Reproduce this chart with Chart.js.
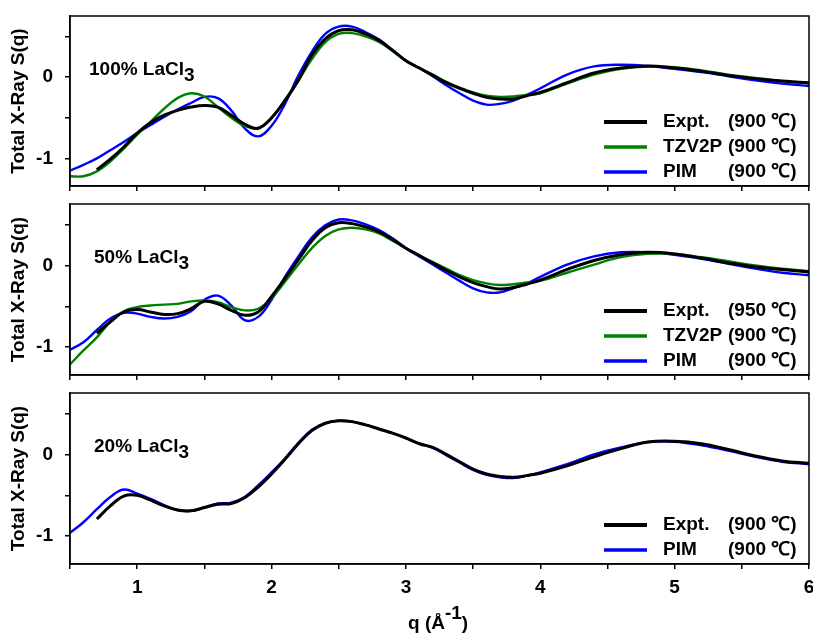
<!DOCTYPE html>
<html>
<head>
<meta charset="utf-8">
<script src="https://cdn.jsdelivr.net/npm/chart.js@4.4.1/dist/chart.umd.min.js"></script>
<style>
  body { margin: 0; background: #fff; }
  #wrap { position: relative; width: 813px; height: 633px; }
  #wrap canvas { position: absolute; left: 0; top: 0; }
</style>
</head>
<body>
<div id="wrap">
  <canvas id="c100" width="813" height="633"></canvas>
  <canvas id="c50" width="813" height="633"></canvas>
  <canvas id="c20" width="813" height="633"></canvas>
</div>
<script>
// q grid (1/Å) shared by every curve
const qGrid = [0.5, 0.6, 0.7, 0.8, 0.9, 1.0, 1.1, 1.2, 1.3, 1.4, 1.5, 1.6, 1.7, 1.8, 1.9,
  2.0, 2.1, 2.2, 2.3, 2.4, 2.5, 2.6, 2.7, 2.8, 2.9, 3.0,
  3.1, 3.2, 3.3, 3.4, 3.5, 3.6, 3.7, 3.8, 3.9, 4.0,
  4.2, 4.4, 4.6, 4.8, 5.0, 5.2, 5.4, 5.6, 5.8, 6.0];

// 100% LaCl3
const expt100 = [null, null, -1.14, -1.01, -0.86, -0.69, -0.56, -0.47, -0.41, -0.37, -0.35, -0.37, -0.47, -0.58, -0.63,
  -0.5, -0.29, -0.04, 0.27, 0.47, 0.57, 0.58, 0.53, 0.45, 0.33, 0.2,
  0.11, 0.02, -0.07, -0.14, -0.2, -0.25, -0.27, -0.27, -0.23, -0.19,
  -0.07, 0.05, 0.11, 0.135, 0.11, 0.07, 0.02, -0.02, -0.05, -0.07];
const tzv100 = [-1.22, -1.22, -1.16, -1.04, -0.88, -0.71, -0.55, -0.39, -0.26, -0.2, -0.24, -0.37, -0.5, -0.6, -0.63,
  -0.51, -0.28, -0.04, 0.22, 0.43, 0.53, 0.54, 0.5, 0.43, 0.32, 0.2,
  0.11, 0.03, -0.06, -0.13, -0.19, -0.23, -0.245, -0.24, -0.22, -0.2,
  -0.08, 0.03, 0.1, 0.13, 0.12, 0.08, 0.03, -0.01, -0.05, -0.08];
const pim100 = [-1.15, -1.08, -1.0, -0.9, -0.8, -0.69, -0.59, -0.49, -0.4, -0.32, -0.245, -0.26, -0.41, -0.63, -0.73,
  -0.6, -0.33, 0.02, 0.31, 0.53, 0.62, 0.62, 0.55, 0.46, 0.33, 0.2,
  0.11, 0.01, -0.1, -0.2, -0.29, -0.34, -0.33, -0.29, -0.22, -0.14,
  0.03, 0.13, 0.15, 0.135, 0.1, 0.06, 0.01, -0.04, -0.08, -0.11];

// 50% LaCl3
const expt50 = [null, null, -0.83, -0.69, -0.57, -0.54, -0.57, -0.6, -0.59, -0.53, -0.44, -0.47, -0.55, -0.61, -0.57,
  -0.38, -0.16, 0.07, 0.3, 0.46, 0.52, 0.51, 0.47, 0.41, 0.32, 0.21,
  0.12, 0.03, -0.06, -0.14, -0.21, -0.26, -0.29, -0.27, -0.23, -0.18,
  -0.05, 0.06, 0.13, 0.16, 0.14, 0.09, 0.03, -0.02, -0.05, -0.08];
const tzv50 = [-1.21, -1.04, -0.88, -0.69, -0.56, -0.51, -0.49, -0.48, -0.47, -0.44, -0.43, -0.45, -0.51, -0.55, -0.53,
  -0.4, -0.2, 0.01, 0.21, 0.36, 0.44, 0.46, 0.44, 0.39, 0.3, 0.21,
  0.12, 0.04, -0.04, -0.12, -0.18, -0.22, -0.24, -0.23, -0.21, -0.19,
  -0.09, 0.01, 0.1, 0.14, 0.14, 0.1, 0.05, 0.0, -0.04, -0.07];
const pim50 = [-1.03, -0.94, -0.79, -0.65, -0.58, -0.59, -0.63, -0.65, -0.63, -0.56, -0.42, -0.37, -0.49, -0.67, -0.63,
  -0.42, -0.14, 0.11, 0.34, 0.49, 0.56, 0.55, 0.5, 0.43, 0.33, 0.21,
  0.11, 0.01, -0.09, -0.19, -0.28, -0.33, -0.33, -0.28, -0.22, -0.14,
  0.01, 0.11, 0.16, 0.16, 0.13, 0.08, 0.02, -0.04, -0.09, -0.12];

// 20% LaCl3
const expt20 = [null, null, -0.79, -0.63, -0.51, -0.5, -0.56, -0.63, -0.68, -0.69, -0.65, -0.61, -0.6, -0.53, -0.4,
  -0.24, -0.06, 0.13, 0.29, 0.38, 0.41, 0.4, 0.36, 0.31, 0.26, 0.2,
  0.13, 0.085, 0.0, -0.09, -0.18, -0.24, -0.27, -0.28, -0.26, -0.23,
  -0.14, -0.03, 0.07, 0.15, 0.16, 0.13, 0.06, -0.02, -0.08, -0.11];
const pim20 = [-0.96, -0.83, -0.67, -0.52, -0.43, -0.48, -0.545, -0.62, -0.68, -0.69, -0.65, -0.6, -0.59, -0.52, -0.38,
  -0.22, -0.05, 0.14, 0.3, 0.38, 0.41, 0.4, 0.36, 0.31, 0.26, 0.2,
  0.13, 0.08, -0.01, -0.1, -0.19, -0.25, -0.28, -0.29, -0.26, -0.22,
  -0.12, 0.0, 0.085, 0.15, 0.155, 0.11, 0.045, -0.03, -0.09, -0.12];

const xTicks = [0.5, 1, 1.5, 2, 2.5, 3, 3.5, 4, 4.5, 5, 5.5, 6];
const yTicks = [-1, -0.5, 0, 0.5];
const yLabels = { '0': '0', '-1': '-1' };

const FONT = '"Liberation Sans", Arial, Helvetica, sans-serif';
const COLORS = { 'Expt.': '#000000', 'TZV2P': '#008000', 'PIM': '#0000ff' };

function toPoints(values) {
  const pts = [];
  values.forEach((v, i) => {
    if (v !== null) pts.push({ x: qGrid[i], y: v });
  });
  return pts;
}

function series(name, temp, values) {
  return {
    label: name,
    temp: temp,
    data: toPoints(values),
    borderColor: COLORS[name],
    borderWidth: name === 'Expt.' ? 3 : 2.4,
    pointRadius: 0,
    fill: false,
    tension: 0.4,
    order: name === 'Expt.' ? 0 : (name === 'TZV2P' ? 1 : 2),
  };
}

// draws frame, legend, panel label and axis titles
const decorPlugin = {
  id: 'decor',
  afterDatasetsDraw(chart, args, opts) {
    const ctx = chart.ctx;
    const a = chart.chartArea;
    ctx.save();
    ctx.strokeStyle = '#000';
    ctx.lineWidth = 1.5;
    ctx.strokeRect(a.left, a.top, a.right - a.left, a.bottom - a.top);

    ctx.fillStyle = '#000';
    ctx.font = 'bold 19px ' + FONT;
    ctx.textBaseline = 'alphabetic';

    // panel label with subscript
    const lx = a.left + opts.labelDx;
    const ly = a.top + 59;
    ctx.textAlign = 'left';
    ctx.fillText(opts.label, lx, ly);
    const w = ctx.measureText(opts.label).width;
    ctx.fillText('3', lx + w, ly + 6);

    // legend, bottom right, inside the frame
    ctx.textBaseline = 'middle';
    const order = opts.legendOrder;
    order.forEach((name, i) => {
      const ds = chart.data.datasets.find(d => d.label === name);
      const y = a.bottom - 14 - (order.length - 1 - i) * 25;
      ctx.strokeStyle = ds.borderColor;
      ctx.lineWidth = name === 'Expt.' ? 4 : 3.3;
      ctx.beginPath();
      ctx.moveTo(a.right - 205, y);
      ctx.lineTo(a.right - 162, y);
      ctx.stroke();
      ctx.fillText(name, a.right - 146, y);
      ctx.fillText('(' + ds.temp + ' \u2103)', a.right - 81, y);
    });

    // y title
    ctx.save();
    ctx.translate(19, (a.top + a.bottom) / 2);
    ctx.rotate(-Math.PI / 2);
    ctx.textAlign = 'center';
    ctx.textBaseline = 'middle';
    ctx.fillText('Total X-Ray S(q)', 0, 0);
    ctx.restore();

    // x title
    if (opts.xTitle) {
      ctx.textAlign = 'left';
      ctx.textBaseline = 'alphabetic';
      let x = 408;
      const base = 629;
      ctx.fillText('q (\u00c5', x, base);
      x += ctx.measureText('q (\u00c5').width;
      ctx.fillText('-1', x, base - 10);
      x += ctx.measureText('-1').width;
      ctx.fillText(')', x, base);
    }
    ctx.restore();
  }
};

function makeChart(id, datasets, legendOrder, label, labelDx, top, bottom, showX) {
  const xHeight = showX ? 45 : 20;
  return new Chart(document.getElementById(id), {
    type: 'line',
    data: { datasets: datasets },
    options: {
      responsive: false,
      animation: false,
      layout: { padding: { top: top, bottom: 633 - bottom - xHeight, left: 0, right: 4 } },
      plugins: {
        legend: { display: false },
        tooltip: { enabled: false },
        decor: { label: label, labelDx: labelDx, legendOrder: legendOrder, xTitle: showX },
      },
      scales: {
        x: {
          type: 'linear',
          min: 0.5,
          max: 6,
          afterBuildTicks: (s) => { s.ticks = xTicks.map(v => ({ value: v })); },
          afterFit: (s) => {
            s.height = xHeight;
            s.paddingLeft = 0; s.paddingRight = 0; s.paddingTop = 0; s.paddingBottom = 0;
          },
          ticks: {
            autoSkip: false,
            maxRotation: 0,
            padding: 7,
            color: '#000',
            font: { family: FONT, size: 19, weight: 'bold' },
            callback: (v) => (showX && Number.isInteger(v)) ? String(v) : '',
          },
          grid: { drawOnChartArea: false, drawTicks: true, tickLength: 5, color: '#000', lineWidth: 1.5 },
          border: { display: true, color: '#000', width: 1.5 },
        },
        y: {
          min: -1.34,
          max: 0.75,
          afterBuildTicks: (s) => { s.ticks = yTicks.map(v => ({ value: v })); },
          afterFit: (s) => {
            s.width = 70;
            s.paddingLeft = 0; s.paddingRight = 0; s.paddingTop = 0; s.paddingBottom = 0;
          },
          ticks: {
            padding: 12,
            color: '#000',
            font: { family: FONT, size: 19, weight: 'bold' },
            callback: (v) => yLabels[String(v)] || '',
          },
          grid: { drawOnChartArea: false, drawTicks: true, tickLength: 5, color: '#000', lineWidth: 1.5 },
          border: { display: true, color: '#000', width: 1.5 },
        },
      },
    },
    plugins: [decorPlugin],
  });
}

makeChart('c100', [
  series('PIM', 900, pim100),
  series('TZV2P', 900, tzv100),
  series('Expt.', 900, expt100),
], ['Expt.', 'TZV2P', 'PIM'], '100% LaCl', 19, 16, 186, false);

makeChart('c50', [
  series('PIM', 900, pim50),
  series('TZV2P', 900, tzv50),
  series('Expt.', 950, expt50),
], ['Expt.', 'TZV2P', 'PIM'], '50% LaCl', 24, 204, 375, false);

makeChart('c20', [
  series('PIM', 900, pim20),
  series('Expt.', 900, expt20),
], ['Expt.', 'PIM'], '20% LaCl', 24, 393, 564, true);
</script>
</body>
</html>
